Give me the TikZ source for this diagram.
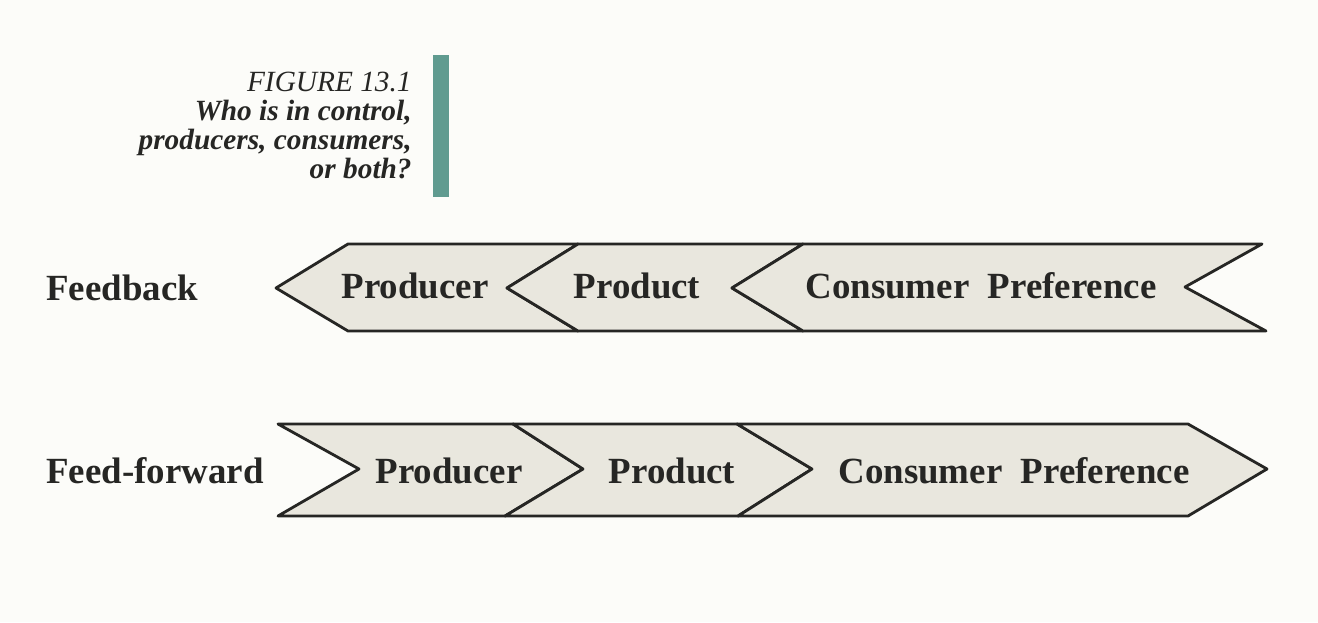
\documentclass[tikz,border=0pt]{standalone}
\usepackage{fontspec}
\setmainfont{Liberation Serif}
\definecolor{ink}{RGB}{38,38,36}
\definecolor{chevfill}{RGB}{233,231,222}
\definecolor{barteal}{RGB}{96,155,144}
\definecolor{paper}{RGB}{252,252,249}
\tikzset{
	chevron/.style={draw=ink,fill=chevfill,line width=1.6pt},
	chevtext/.style={anchor=base,inner sep=0pt,text=ink,font=\fontsize{21}{24}\selectfont\bfseries},
	rowlabel/.style={anchor=base west,inner sep=0pt,text=ink,font=\fontsize{21}{24}\selectfont\bfseries}
}
\begin{document}
\begin{tikzpicture}[
	x=0.02cm,
	y=-0.02cm,
	line cap=round,
	line join=round
	]
	\fill[paper] (0,0) rectangle (1318,622);
	\useasboundingbox (0,0) rectangle (1318,622);
	% caption
	\node[anchor=north east,inner sep=0pt,align=right,text=ink,
		font=\fontsize{16.7}{16.5}\selectfont\bfseries\itshape] (caption) at (412,72)
		{{\mdseries FIGURE 13.1}\\Who is in control,\\producers, consumers,\\or both?};
	\fill[barteal] (433,55) rectangle (449,197);
	% feedback row
	\begin{scope}
		\filldraw[chevron] (276,288) -- (348,244) -- (578,244) -- (507,288) -- (578,331) -- (348,331) -- cycle;
		\filldraw[chevron] (507,288) -- (578,244) -- (803,244) -- (732,288) -- (803,331) -- (578,331) -- cycle;
		\filldraw[chevron] (732,288) -- (803,244) -- (1262,244) -- (1185,287) -- (1266,331) -- (803,331) -- cycle;
		\node[rowlabel] (fblabel) at (46,300) {Feedback};
		\node[chevtext] (fbproducer) at (415,298) {Producer};
		\node[chevtext] (fbproduct) at (637,298) {Product};
		\node[chevtext] (fbpreference) at (981,298) {Consumer\ \ Preference};
	\end{scope}
	% feed-forward row
	\begin{scope}
		\filldraw[chevron] (278,424) -- (513,424) -- (583,469) -- (505,516) -- (278,516) -- (359,469) -- cycle;
		\filldraw[chevron] (513,424) -- (737,424) -- (812,469) -- (738,516) -- (505,516) -- (583,469) -- cycle;
		\filldraw[chevron] (737,424) -- (1188,424) -- (1267,469) -- (1188,516) -- (738,516) -- (812,469) -- cycle;
		\node[rowlabel] (fflabel) at (46,483) {Feed-forward};
		\node[chevtext] (ffproducer) at (449,483) {Producer};
		\node[chevtext] (ffproduct) at (672,483) {Product};
		\node[chevtext] (ffpreference) at (1014,483) {Consumer\ \ Preference};
	\end{scope}
\end{tikzpicture}
\end{document}
